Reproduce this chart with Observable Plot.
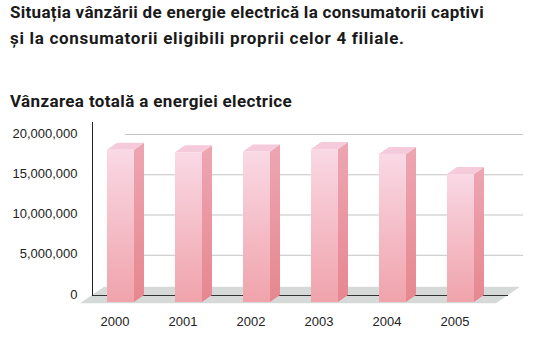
<!DOCTYPE html>
<html><head><meta charset="utf-8">
<script src="https://cdn.jsdelivr.net/npm/d3@7"></script>
<script src="https://cdn.jsdelivr.net/npm/@observablehq/plot@0.6"></script>
<style>
body{margin:0;background:#fff;}
#wrap{position:relative;width:552px;height:337px;overflow:hidden;}
.t{position:absolute;left:10px;font-family:Roboto,sans-serif;font-weight:700;font-size:17px;line-height:20px;color:#1a1a1a;white-space:nowrap;}
#chart{position:absolute;left:0;top:115px;}
</style></head><body>
<div id="wrap">
<div class="t" style="top:1.5px;letter-spacing:0.3px">Situația vânzării de energie electrică la consumatorii captivi</div>
<div class="t" style="top:27.5px;letter-spacing:0.7px">și la consumatorii eligibili proprii celor 4 filiale.</div>
<div class="t" style="top:91px;letter-spacing:0.36px">Vânzarea totală a energiei electrice</div>
<div id="chart"></div>
</div>
<script>
const years = ["2000", "2001", "2002", "2003", "2004", "2005"];
const sales = [18.9e6, 18.6e6, 18.7e6, 19.0e6, 18.4e6, 15.9e6];
const yTicks = [0, 5e6, 10e6, 15e6, 20e6];
const data = years.map((year, i) => ({year, value: sales[i]}));
const depthX = 10, depthY = 7;

const defs = () => {
  const d = d3.create("svg:defs");
  const grad = (id, c0, c1) => {
    const g = d.append("linearGradient").attr("id", id).attr("x1", 0).attr("y1", 0).attr("x2", 0).attr("y2", 1);
    g.append("stop").attr("offset", 0).attr("stop-color", c0);
    g.append("stop").attr("offset", 1).attr("stop-color", c1);
  };
  grad("gFront", "#f9d9e5", "#f0a3ab");
  grad("gSide", "#eda6b2", "#e7878f");
  return d.node();
};

const floor = (index, scales, values, dims) => {
  const {y} = scales;
  const y0 = y(0);
  const left = dims.marginLeft, right = dims.width - dims.marginRight - 15;
  const dx = 12, dy = 8.3;
  const g = d3.create("svg:g");
  g.append("path")
    .attr("d", `M${left + dx},${y0 - dy}L${right + dx},${y0 - dy}L${right - dx},${y0 + dy}L${left - dx},${y0 + dy}Z`)
    .attr("fill", "#d5d9d8");
  return g.node();
};

const bars3d = (index, scales) => {
  const {x, y} = scales;
  const bw = x.bandwidth();
  const y0 = y(0);
  const g = d3.create("svg:g");
  data.forEach(d => {
    const xl = x(d.year), xr = xl + bw, yv = y(d.value);
    g.append("path")
      .attr("d", `M${xr},${yv + depthY}L${xr + depthX},${yv}L${xr + depthX},${y0}L${xr},${y0 + depthY}Z`)
      .attr("fill", "url(#gSide)");
    g.append("path")
      .attr("d", `M${xl},${yv + depthY}L${xl + depthX},${yv}L${xr + depthX},${yv}L${xr},${yv + depthY}Z`)
      .attr("fill", "#f5cbdc");
  });
  return g.node();
};

const chart = Plot.plot({
  width: 552,
  height: 222,
  marginLeft: 92,
  marginRight: 29,
  marginTop: 7,
  marginBottom: 42,
  style: {fontFamily: "'Liberation Sans', Arial, sans-serif", fontSize: "13px", color: "#222", background: "transparent", overflow: "visible"},
  x: {type: "band", domain: years, range: [63.5, 517], padding: 0.6, label: null},
  y: {domain: [0, 20e6], range: [180, 19], label: null},
  marks: [
    defs,
    floor,
    Plot.ruleY(yTicks.slice(1), {stroke: "#c4c4c4", insetLeft: 33}),
    Plot.ruleY([0], {stroke: "#333", strokeWidth: 1.2, insetRight: 15}),
    Plot.frame({anchor: "left", stroke: "#222"}),
    bars3d,
    Plot.barY(data, {x: "year", y: "value", dy: depthY, fill: "url(#gFront)"}),
    Plot.axisX({tickSize: 0, tickPadding: 21, dx: -6, fontSize: 13}),
    Plot.axisY({ticks: yTicks, tickFormat: d3.format(","), tickSize: 0, tickPadding: 15, dy: -1, fontSize: 13})
  ]
});
document.getElementById("chart").appendChild(chart);
</script>
</body></html>
